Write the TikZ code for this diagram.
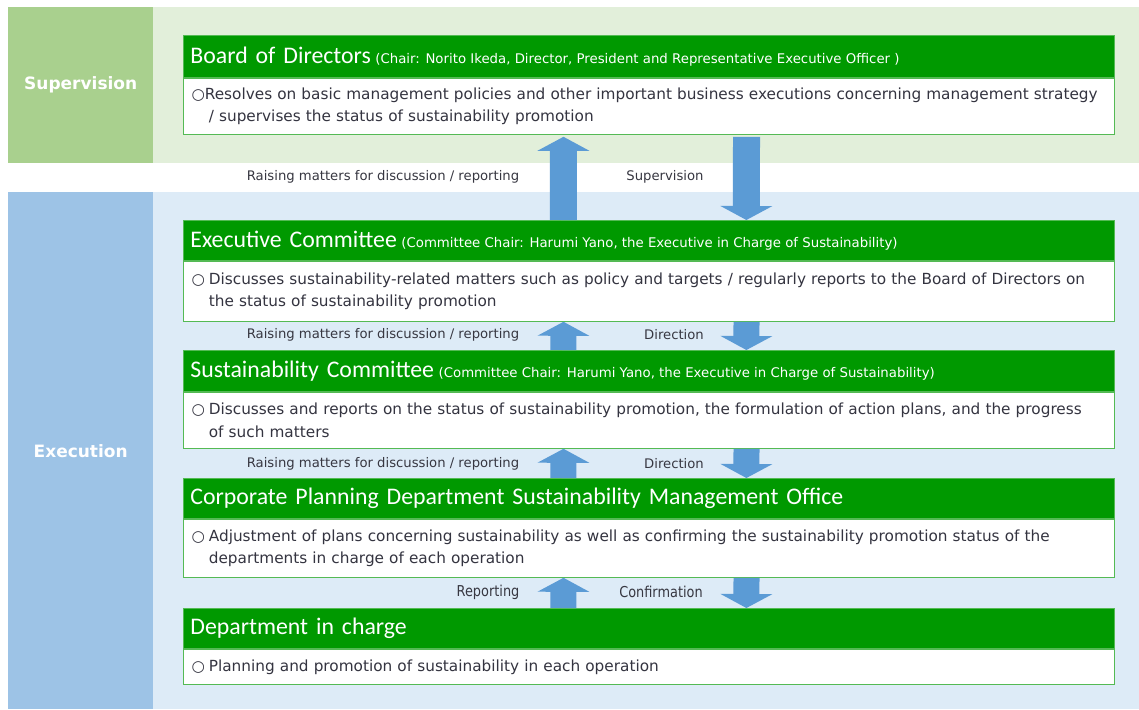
\documentclass[tikz,border=0pt]{standalone}
\usepackage{fontspec}
\setmainfont{DejaVu Sans}
\newfontfamily\headfont{Carlito}
\newfontfamily\narrowfont{DejaVu Sans}[FakeStretch=0.86]
\usetikzlibrary{arrows.meta}

\definecolor{hdgreen}{RGB}{0,153,0}
\definecolor{boxline}{RGB}{84,186,84}
\definecolor{supdark}{RGB}{169,208,142}
\definecolor{suplight}{RGB}{226,239,218}
\definecolor{exedark}{RGB}{157,195,230}
\definecolor{exelight}{RGB}{221,235,247}
\definecolor{flow}{RGB}{91,155,213}
\definecolor{bodytext}{RGB}{52,52,64}
\definecolor{labeltext}{RGB}{55,55,65}

\newcommand{\bul}{○\hspace{4pt}}
\newcommand{\ind}{\hphantom{○\hspace{4pt}}}
\newcommand{\chairtext}[1]{\hspace{4.5pt}{\normalfont\fontsize{13.3}{15}\selectfont\spaceskip=0pt\xspaceskip=0pt #1}}

\begin{document}
\begin{tikzpicture}[x=1pt,y=-1pt,
  bandlabel/.style={anchor=north west,text=white,font=\bfseries\fontsize{17}{20}\selectfont,
    inner sep=0pt},
  hdr/.style={anchor=north west,fill=hdgreen,draw=boxline,line width=0.8pt,text=white,
    text width=917pt,inner xsep=7pt,inner ysep=0pt,align=left,
    font=\headfont\fontsize{23.8}{26}\selectfont},
  bodybox/.style={anchor=north west,fill=white,draw=boxline,line width=1pt,text=bodytext,
    text width=915pt,inner xsep=8pt,inner ysep=0pt,align=left,
    font=\fontsize{15.3}{22.5}\selectfont},
  flowlabel/.style={text=labeltext,font=\fontsize{13.2}{15}\selectfont,inner sep=0pt},
  narrowlabel/.style={text=labeltext,font=\narrowfont\fontsize{15}{17}\selectfont,inner sep=0pt},
  bigflow/.style={draw=flow,line width=27pt,
    -{Triangle[width=52pt,length=14pt,line width=0pt]}},
  smallflow/.style={draw=flow,line width=26pt,
    -{Triangle[width=52pt,length=14pt,line width=0pt]}},
]
\useasboundingbox (0,0) rectangle (1139,709);
\fill[white] (0,0) rectangle (1139,709);

% Supervision band
\fill[suplight] (153,7) rectangle (1139,163);
\node[bandlabel,fill=supdark,minimum width=145pt,minimum height=156pt] (suplab) at (8,7) {Supervision};

% Execution band
\fill[exelight] (153,192) rectangle (1139,709);
\node[bandlabel,fill=exedark,minimum width=145pt,minimum height=517pt] (exelab) at (8,192) {Execution};

% Board of Directors
\node[hdr,minimum height=42pt] (boardh) at (183,35)
  {Board of Directors\chairtext{(Chair: Norito Ikeda, Director, President and Representative Executive Officer )}};
\node[bodybox,minimum height=56pt] (boardb) at (boardh.south west)
  {○Resolves on basic management policies and other important business executions concerning management strategy\\
   \ind/ supervises the status of sustainability promotion};

% Executive Committee
\node[hdr,minimum height=40pt] (exech) at (183,220)
  {Executive Committee\chairtext{(Committee Chair: Harumi Yano, the Executive in Charge of Sustainability)}};
\node[bodybox,minimum height=60pt] (execb) at (exech.south west)
  {\bul Discusses sustainability-related matters such as policy and targets / regularly reports to the Board of Directors on\\
   \ind the status of sustainability promotion};

% Sustainability Committee
\node[hdr,minimum height=41pt] (susth) at (183,350)
  {Sustainability Committee\chairtext{(Committee Chair: Harumi Yano, the Executive in Charge of Sustainability)}};
\node[bodybox,minimum height=56pt] (sustb) at (susth.south west)
  {\bul Discusses and reports on the status of sustainability promotion, the formulation of action plans, and the progress\\
   \ind of such matters};

% Corporate Planning Department Sustainability Management Office
\node[hdr,minimum height=40pt] (cpdh) at (183,478)
  {Corporate Planning Department Sustainability Management Office};
\node[bodybox,minimum height=58pt] (cpdb) at (cpdh.south west)
  {\bul Adjustment of plans concerning sustainability as well as confirming the sustainability promotion status of the\\
   \ind departments in charge of each operation};

% Department in charge
\node[hdr,minimum height=40pt] (deph) at (183,608)
  {Department in charge};
\node[bodybox,minimum height=35pt] (depb) at (deph.south west)
  {\bul Planning and promotion of sustainability in each operation};

% Flows between the levels
\draw[bigflow] ([xshift=-85.5pt]exech.north) -- ([xshift=-85.5pt,yshift=-2pt]boardb.south);
\draw[bigflow] ([xshift=97.5pt,yshift=-2pt]boardb.south) -- ([xshift=97.5pt]exech.north);

\draw[smallflow] ([xshift=-85.5pt]susth.north) -- ([xshift=-85.5pt]execb.south);
\draw[smallflow] ([xshift=97.5pt]execb.south) -- ([xshift=97.5pt]susth.north);

\draw[smallflow] ([xshift=-85.5pt]cpdh.north) -- ([xshift=-85.5pt]sustb.south);
\draw[smallflow] ([xshift=97.5pt]sustb.south) -- ([xshift=97.5pt]cpdh.north);

\draw[smallflow] ([xshift=-85.5pt]deph.north) -- ([xshift=-85.5pt]cpdb.south);
\draw[smallflow] ([xshift=97.5pt]cpdb.south) -- ([xshift=97.5pt]deph.north);

% Flow labels
\node[flowlabel] (l1) at (383,177) {Raising matters for discussion / reporting};
\node[flowlabel] (r1) at (665,177) {Supervision};
\node[flowlabel] (l2) at (383,335) {Raising matters for discussion / reporting};
\node[flowlabel] (r2) at (674,335) {Direction};
\node[flowlabel] (l3) at (383,464) {Raising matters for discussion / reporting};
\node[flowlabel] (r3) at (674,464) {Direction};
\node[narrowlabel] (l4) at (488,592) {Reporting};
\node[narrowlabel] (r4) at (661,592) {Confirmation};
\end{tikzpicture}
\end{document}
